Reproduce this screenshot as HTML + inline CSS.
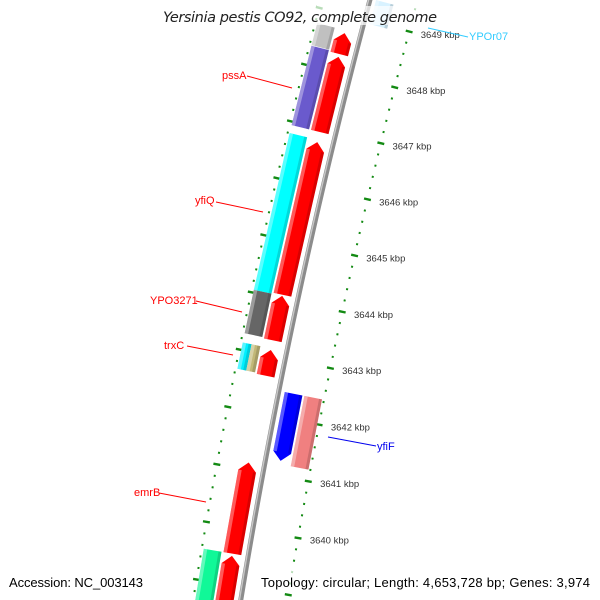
<!DOCTYPE html>
<html><head><meta charset="utf-8"><style>
html,body{margin:0;padding:0;background:#fff;width:600px;height:600px;overflow:hidden;}
svg{display:block;overflow:hidden;}
</style></head><body>
<svg id="map" width="600" height="600" viewBox="0 0 600 600" xmlns="http://www.w3.org/2000/svg" font-family="'Liberation Sans', 'DejaVu Sans', sans-serif">
<g id="ticks"></g>
<g id="backbone"></g>
<g id="genes"></g>
<g id="labels"></g>
<rect x="160" y="6" width="282" height="19" fill="#fff" opacity="0.7"/>
<text x="300" y="22" text-anchor="middle" font-style="italic" font-size="14.5" fill="#222" font-family="'DejaVu Sans','Liberation Sans',sans-serif" textLength="274">Yersinia pestis CO92, complete genome</text>
<rect x="4" y="571" width="150" height="18" fill="#fff" opacity="0.7"/>
<text x="9" y="587" font-size="13" fill="#000" textLength="134">Accession: NC_003143</text>
<rect x="257" y="571" width="338" height="18" fill="#fff" opacity="0.7"/>
<text x="261" y="587" font-size="13" fill="#000" textLength="329">Topology: circular; Length: 4,653,728 bp; Genes: 3,974</text>
</svg>
<script>
// ---- data ----
const tickLabels = [3640,3641,3642,3643,3644,3645,3646,3647,3648,3649];
const geneNames = ['r1','r2','r3','r4','r5','r6','r7','gray1','pssA','yfiQ','YPO3271','trxC-a','trxC-b','emrB-g','yfiF','pink1','top-blue','top-cyan'];
const geneStarts = [3648.32,3646.94,3644.07,3643.27,3642.65,3639.54,3638.35,3648.35,3646.94,3644.05,3643.29,3642.67,3642.67,3638.3,3641.26,3641.20,3649.42,3648.95];
const geneEnds   = [3648.69,3648.27,3646.76,3644.05,3643.10,3641.13,3639.50,3648.74,3648.34,3646.80,3644.05,3643.13,3643.13,3639.54,3642.44,3642.44,3649.9,3649.38];
const geneStrands = [1,1,1,1,1,1,1,0,0,0,0,0,0,0,-1,0,-1,0];
const geneSlots = ['f1','f1','f1','f1','f1','f1','f1','f2','f2','f2','f2','f2a','f2b','f2','r1','r2','r1','r1'];
const geneColors = ['#ff0000','#ff0000','#ff0000','#ff0000','#ff0000','#ff0000','#ff0000','#c0c0c0','#6a5acd','#00ffff','#666666','#00f0ff','#c2b878','#10f898','#0000ff','#f08080','#33bbff','#d8f2ff'];

// ---- geometry ----
const CX = 6457, CY = 1624, RB = 6300;
const slotR = {f1:[6307,6325], f2:[6327,6345], f2a:[6336,6345], f2b:[6327,6336], r1:[6294,6276], r2:[6274,6256]};
const R_LEFT = 6347, R_RIGHT = 6254;
function ang(p){ return (10 + (p - 3640) * 0.528) * Math.PI / 180; }
function pt(r, p){ const a = ang(p); return [CX - r*Math.cos(a), CY - r*Math.sin(a)]; }
function f(v){ return v[0].toFixed(2)+','+v[1].toFixed(2); }
const NS = 'http://www.w3.org/2000/svg';
function mk(tag, attrs, parent){ const e=document.createElementNS(NS,tag); for(const k in attrs) e.setAttribute(k,attrs[k]); parent.appendChild(e); return e; }

// ticks
const tg = document.getElementById('ticks');
for (let i = 0; i <= 60; i++) {
  const p = 3638.2 + i*0.2;
  const major = Math.abs(p - Math.round(p)) < 0.01;
  [R_LEFT, R_RIGHT].forEach(function(r){
    const h = major ? 3.5 : 1;
    const a = pt(r-h, p), b = pt(r+h, p);
    const l = mk('line', {x1:a[0],y1:a[1],x2:b[0],y2:b[1],stroke:'#138a13','stroke-width':major?2.4:2}, tg);
    
    
  });
}
tickLabels.forEach(function(v){
  const q = pt(R_RIGHT - 12, v);
  const t = mk('text', {x:q[0], y:q[1]+3.5, 'font-size':9.5, fill:'#333'}, tg);
  t.textContent = v + ' kbp';
  
  
});

// backbone
const bg = document.getElementById('backbone');
function arcPath(r, p0, p1){ let d=''; for(let p=p0;p<=p1+1e-6;p+=0.25){ d += (d?'L':'M') + f(pt(r,p)); } return d; }
const bb1 = mk('path', {d:arcPath(RB,3637.75,3650.5), stroke:'#8c8c8c', 'stroke-width':5, fill:'none'}, bg);


const bb2 = mk('path', {d:arcPath(RB+1.3,3637.75,3650.5), stroke:'#c8c8c8', 'stroke-width':1.4, fill:'none'}, bg);



// genes
const gg = document.getElementById('genes');
function genePoly(r0, r1, s, e, strand){
  const rm = (r0+r1)/2, hl = 0.15;
  let pts;
  if (strand === 1 && e - s > hl) {
    pts = [pt(r0,s), pt(r1,s), pt(r1,e-hl), pt(rm,e), pt(r0,e-hl)];
  } else if (strand === -1 && e - s > hl) {
    pts = [pt(rm,s), pt(r1,s+hl), pt(r1,e), pt(r0,e), pt(r0,s+hl)];
  } else {
    pts = [pt(r0,s), pt(r1,s), pt(r1,e), pt(r0,e)];
  }
  return pts.map(f).join(' ');
}
geneNames.forEach(function(n, i){
  const sr = slotR[geneSlots[i]];
  const s = geneStarts[i], e = geneEnds[i], st = geneStrands[i];
  const poly = mk('polygon', {points:genePoly(sr[0], sr[1], s, e, st), fill:geneColors[i]}, gg);
  
  
  const outerR = Math.max(sr[0], sr[1]), innerR = Math.min(sr[0], sr[1]);
  const hl = (st !== 0 && e - s > 0.15) ? 0.15 : 0;
  const s2 = st === -1 ? s + hl : s, e2 = st === 1 ? e - hl : e;
  const lt = mk('polygon', {points:[pt(outerR-3.5,s2),pt(outerR,s2),pt(outerR,e2),pt(outerR-3.5,e2)].map(f).join(' '), fill:'#fff', opacity:0.35}, gg);
  
  
  const dk = mk('polygon', {points:[pt(innerR,s2),pt(innerR+3,s2),pt(innerR+3,e2),pt(innerR,e2)].map(f).join(' '), fill:'#000', opacity:0.15}, gg);
  
  
});

// labels
const lg = document.getElementById('labels');
const labelTexts = ['pssA','yfiQ','YPO3271','trxC','emrB','yfiF','YPOr07'];
const labelColors = ['#ff0000','#ff0000','#ff0000','#ff0000','#ff0000','#0000ee','#33ccff'];
const labelPos = [[222,79,'start'],[195,204,'start'],[150,304,'start'],[164,349,'start'],[134,496,'start'],[377,450,'start'],[469,40,'start']];
const labelLines = [[247,76,292,88],[216,202,263,212],[196,301,242,312],[187,346,233,355],[159,493,206,502],[376,446,328,437],[468,37,428,28]];
labelTexts.forEach(function(t, i){
  const L = labelLines[i];
  const ln = mk('line', {x1:L[0],y1:L[1],x2:L[2],y2:L[3],stroke:labelColors[i],'stroke-width':1}, lg);
  
  
  const P = labelPos[i];
  const tx = mk('text', {x:P[0], y:P[1], 'font-size':11, fill:labelColors[i], 'text-anchor':P[2]}, lg);
  tx.textContent = t;
  
  
});
</script>
</body></html>
